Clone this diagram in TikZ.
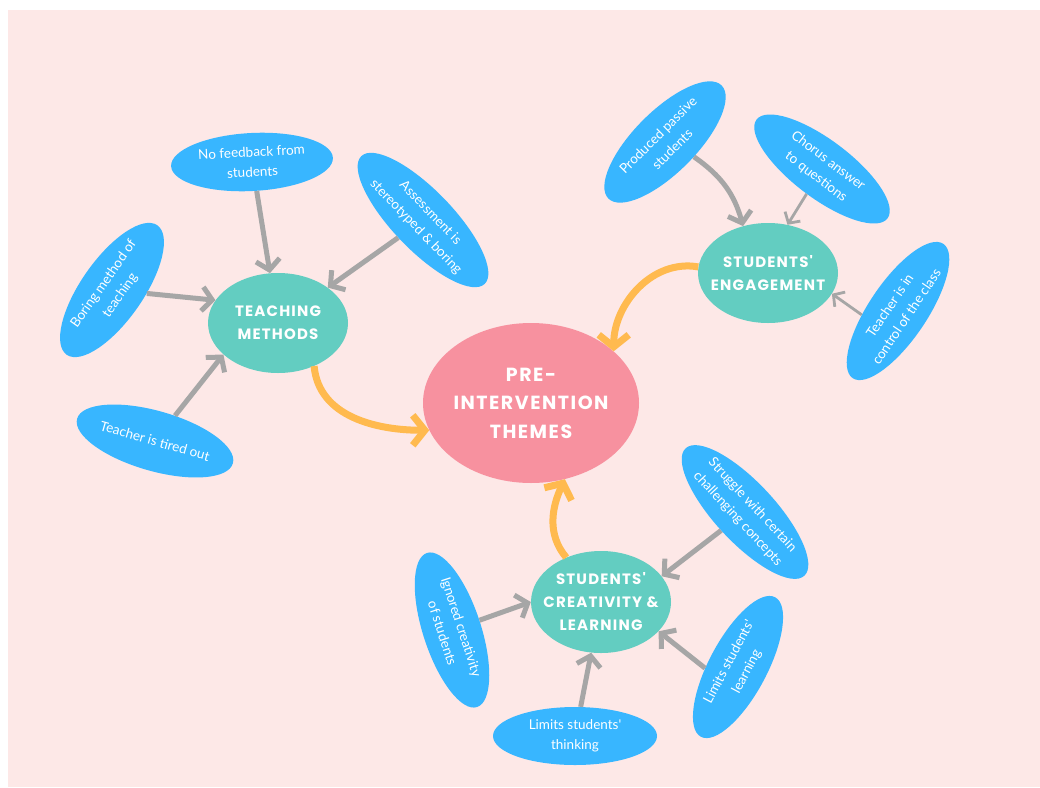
\documentclass[tikz,border=0pt]{standalone}
\usepackage{fontspec}
\usetikzlibrary{shapes.geometric,arrows.meta}
\newfontfamily\leaffam{Lato}
\newfontfamily\hubfam{Poppins}[LetterSpace=8]

\definecolor{pagepink}{HTML}{FDE8E7}
\definecolor{leafblue}{HTML}{38B6FF}
\definecolor{hubteal}{HTML}{63CDC1}
\definecolor{corepink}{HTML}{F7919F}
\definecolor{feedgray}{HTML}{A6A6A6}
\definecolor{linkorange}{HTML}{FFBA4F}

\tikzset{
  leaf/.style={ellipse, fill=leafblue, text=white, inner sep=0pt,
    minimum width=162pt, minimum height=58pt, align=center,
    font=\leaffam\fontsize{13.5}{20}\selectfont},
  hub/.style={ellipse, fill=hubteal, text=white,
    inner xsep=-25pt, inner ysep=-12pt,
    minimum width=140pt, minimum height=100pt, align=center,
    font=\hubfam\bfseries\fontsize{15}{23}\selectfont},
  core/.style={ellipse, fill=corepink, text=white,
    inner xsep=-25pt, inner ysep=-12pt,
    minimum width=216pt, minimum height=160pt, align=center,
    font=\hubfam\bfseries\fontsize{19}{28.5}\selectfont},
  feed/.style={draw=feedgray, line width=5pt,
    -{Straight Barb[length=10pt,width=24pt]}},
  feedthin/.style={draw=feedgray, line width=2.8pt,
    -{Straight Barb[length=8pt,width=18pt]}},
  link/.style={draw=linkorange, line width=7pt,
    -{Straight Barb[length=12pt,width=30pt]}}
}

\begin{document}
\begin{tikzpicture}[x=1pt,y=1pt]
  % page and backdrop
  \fill[white] (0,0) rectangle (1040,-787);
  \fill[pagepink] (8,-10) rectangle (1040,-787);
  \useasboundingbox (0,0) rectangle (1040,-787);

  % central theme
  \node[core] (core) at (531,-403) {PRE-\\INTERVENTION\\THEMES};

  % teaching methods cluster
  \node[hub] (teach) at (278,-323) {TEACHING\\METHODS};
  \node[leaf, rotate=3] (nofb) at (252,-162) {No feedback from\\students};
  \node[leaf, rotate=-46, minimum width=172pt, minimum height=60pt] (assess) at (423,-220) {Assessment is\\stereotyped \& boring};
  \node[leaf, rotate=55, minimum width=158pt, minimum height=62pt] (boring) at (112,-290) {Boring method of\\teaching};
  \node[leaf, rotate=-16, minimum height=60pt] (tired) at (155,-441) {Teacher is tired out};

  % engagement cluster
  \node[hub] (eng) at (768,-273) {STUDENTS'\\ENGAGEMENT};
  \node[leaf, rotate=45, minimum width=160pt, minimum height=62pt] (prod) at (665,-142) {Produced passive\\students};
  \node[leaf, rotate=-37, minimum width=164pt] (chorus) at (822,-169) {Chorus answer\\to questions};
  \node[leaf, rotate=56, minimum width=162pt] (ctrl) at (898,-311) {Teacher is in\\control of the class};

  % creativity and learning cluster
  \node[hub, minimum height=102pt] (cre) at (601,-602) {STUDENTS'\\CREATIVITY \&\\LEARNING};
  \node[leaf, rotate=-47, minimum width=172pt, minimum height=60pt] (str) at (745,-512) {Struggle with certain\\challenging concepts};
  \node[leaf, rotate=-72] (ign) at (452,-630) {Ignored creativity\\of students};
  \node[leaf, minimum width=164pt] (lth) at (575,-736) {Limits students'\\thinking};
  \node[leaf, rotate=62, minimum width=158pt] (lle) at (738,-667) {Limits students'\\learning};

  % grey feeders
  \draw[feed] (nofb) -- (teach);
  \draw[feed] (assess) -- (teach);
  \draw[feed] (boring) -- (teach.160);
  \draw[feed] (tired) -- (teach.-150);

  \draw[feed] (prod) to[bend left=20] (eng.118);
  \draw[feedthin] (chorus) -- (eng.68);
  \draw[feedthin] (ctrl.130) -- (eng.-18);

  \draw[feed] (ign) -- (cre.west);
  \draw[feed] (str) -- (cre.23);
  \draw[feed] (lth) -- (cre);
  \draw[feed] (lle.120) -- (cre.-27);

  % orange links into the central theme
  \draw[link] (teach.-50) to[out=-85, in=180] (core.195);
  \draw[link] (eng.175) to[out=170, in=90] (core.32);
  \draw[link] (cre.128) to[out=130, in=-115] (core.-66);
\end{tikzpicture}
\end{document}
